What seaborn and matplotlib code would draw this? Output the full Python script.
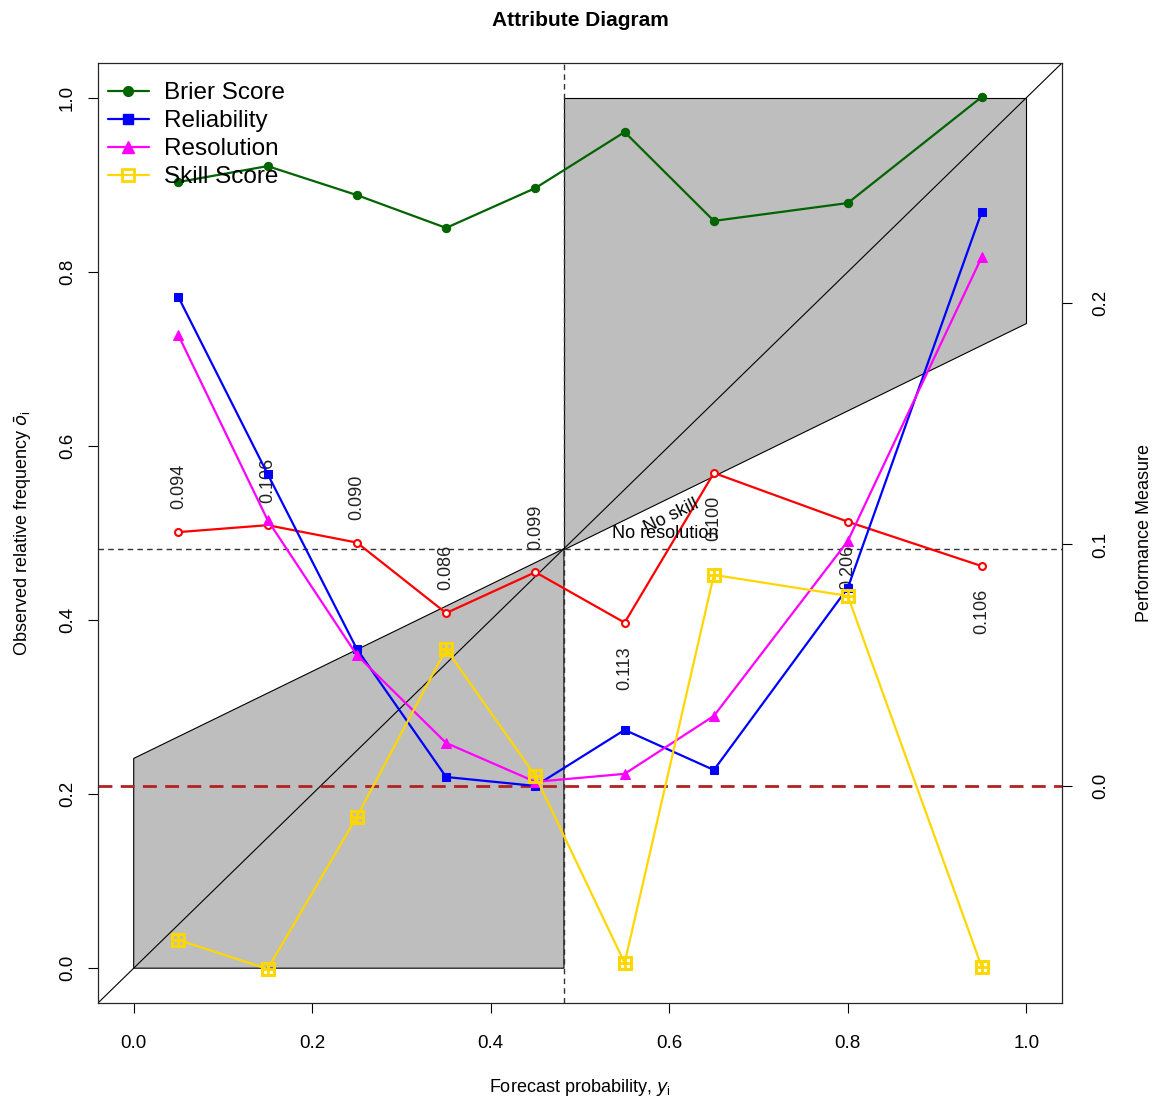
import numpy as np
import pandas as pd
import matplotlib
matplotlib.use("Agg")
import matplotlib.pyplot as plt
import seaborn as sns
from matplotlib.lines import Line2D

sns.set_style("white")
plt.rcParams['font.family'] = ['Liberation Sans', 'DejaVu Sans']
plt.rcParams['text.color'] = 'black'
plt.rcParams['axes.labelcolor'] = 'black'
plt.rcParams['xtick.color'] = 'black'
plt.rcParams['ytick.color'] = 'black'

# ---- data ----
bins = [0.05, 0.15, 0.25, 0.35, 0.45, 0.55, 0.65, 0.80, 0.95]
obs_freq = [0.501, 0.509, 0.489, 0.408, 0.455, 0.397, 0.569, 0.513, 0.462]
bin_share = ["0.094", "0.106", "0.090", "0.086", "0.099", "0.113", "0.100", "0.206", "0.106"]
clim = 0.482
brier = [0.2501, 0.2567, 0.2447, 0.2311, 0.2476, 0.2708, 0.2340, 0.2414, 0.2853]
reliability = [0.2025, 0.1292, 0.0567, 0.0037, 0.0000, 0.0232, 0.0066, 0.0820, 0.2377]
resolution = [0.1867, 0.1101, 0.0542, 0.0178, 0.0017, 0.0050, 0.0290, 0.1014, 0.2190]
skill = [-0.0638, -0.0758, -0.0128, 0.0567, 0.0041, -0.0733, 0.0874, 0.0787, -0.0749]

W, H = 1162, 1101
fig = plt.figure(figsize=(W / 100, H / 100), dpi=100)
ax = fig.add_axes([98 / W, 1 - 1003 / H, (1062 - 98) / W, (1003 - 63) / H])
ax.set_xlim(-0.04, 1.04)
ax.set_ylim(-0.04, 1.04)

# shaded skill regions
ax.fill([0, clim, clim, 0], [0, 0, clim, clim / 2], facecolor="#bebebe", edgecolor="black", lw=0.8, zorder=1)
ax.fill([clim, clim, 1, 1], [clim, 1, 1, (1 + clim) / 2], facecolor="#bebebe", edgecolor="black", lw=0.8, zorder=1)
# diagonal
ax.plot([-0.04, 1.04], [-0.04, 1.04], color="black", lw=0.8, zorder=2)
# climatology lines
ax.axhline(clim, color="#333333", ls=(0, (4, 3)), lw=1, zorder=2)
ax.axvline(clim, color="#333333", ls=(0, (4, 3)), lw=1, zorder=2)

ax.text(0.602, 0.519, "No skill", rotation=26, ha="center", va="center", fontsize=13, zorder=5)
ax.text(0.595, 0.499, "No resolution", ha="center", va="center", fontsize=13, zorder=5)

# observed frequency (red)
df_obs = pd.DataFrame({"x": bins, "y": obs_freq})
sns.lineplot(data=df_obs, x="x", y="y", ax=ax, color="red", lw=1.6, marker="o",
             markersize=5, markerfacecolor="white", markeredgecolor="red", markeredgewidth=1.5, zorder=4)
for xv, yv, lab in zip(bins, obs_freq, bin_share):
    off = 0.052 if xv < clim else -0.052
    ax.text(xv, yv + off, lab, rotation=90, ha="center", va="center", fontsize=13, color="#222222", zorder=5)

ax.set_xticks([0, 0.2, 0.4, 0.6, 0.8, 1.0])
ax.set_yticks([0, 0.2, 0.4, 0.6, 0.8, 1.0])
ax.set_xticklabels(["0.0", "0.2", "0.4", "0.6", "0.8", "1.0"], fontsize=13.5)
ax.set_yticklabels(["0.0", "0.2", "0.4", "0.6", "0.8", "1.0"], fontsize=13.5, rotation=90, va="center")
ax.tick_params(axis="x", direction="out", length=7, width=0.8, color="black", pad=16, bottom=True)
ax.tick_params(axis="y", direction="out", length=7, width=0.8, color="black", pad=9, left=True)
ax.set_title("Attribute Diagram", fontsize=15, fontweight="bold", pad=27)
for s in ax.spines.values():
    s.set_color("black")
    s.set_linewidth(0.8)

# right axis performance measures
ax2 = ax.twinx()
ax2.set_ylim(-0.0899, 0.2994)
ax2.axhline(0.0, color="#b22222", ls=(0, (5, 3)), lw=2, zorder=1)
series = [
    ("Brier Score", brier, "#006400", "o", 6),
    ("Reliability", reliability, "blue", "s", 6),
    ("Resolution", resolution, "magenta", "^", 7),
]
handles = []
for name, vals, col, mk, ms in series:
    d = pd.DataFrame({"x": bins, "y": vals})
    sns.lineplot(data=d, x="x", y="y", ax=ax2, color=col, lw=1.6, marker=mk, markersize=ms,
                 markeredgecolor=col, markerfacecolor=col, zorder=3)
    handles.append(Line2D([], [], color=col, lw=1.6, marker=mk, markersize=ms + 1, markerfacecolor=col, markeredgecolor=col))
gold = "#FFD700"
d = pd.DataFrame({"x": bins, "y": skill})
sns.lineplot(data=d, x="x", y="y", ax=ax2, color=gold, lw=1.6, marker="s", markersize=9,
             markerfacecolor="none", markeredgecolor=gold, markeredgewidth=2.2, zorder=3)
sns.scatterplot(data=d, x="x", y="y", ax=ax2, color=gold, marker="+", s=60, linewidth=2, zorder=4)
handles.append(Line2D([], [], color=gold, lw=1.6, marker="s", markersize=8, markerfacecolor="none",
                      markeredgecolor=gold, markeredgewidth=2.0))
ax2.set_yticks([0.0, 0.1, 0.2])
ax2.set_yticklabels(["0.0", "0.1", "0.2"], fontsize=13.5, rotation=90, va="center")
ax2.tick_params(axis="y", direction="out", length=7, width=0.8, color="black", pad=15, right=True)
ax2.set_ylabel("Performance Measure", fontsize=13, labelpad=19)
ax2.set_xlabel("")
ax.set_xlabel("Forecast probability, $y_\\mathregular{i}$", fontsize=13, labelpad=18)
ax.set_ylabel("Observed relative frequency $\\bar{o}_\\mathregular{i}$", fontsize=13, labelpad=18)

leg = ax2.legend(handles, ["Brier Score", "Reliability", "Resolution", "Skill Score"],
                 loc="upper left", bbox_to_anchor=(0.0, 0.99), frameon=False, fontsize=17.5,
                 handlelength=1.7, handletextpad=0.6, labelspacing=0.25, borderaxespad=0.2,
                 borderpad=0.2)
leg.set_zorder(10)

fig.savefig("out.png", dpi=100)
